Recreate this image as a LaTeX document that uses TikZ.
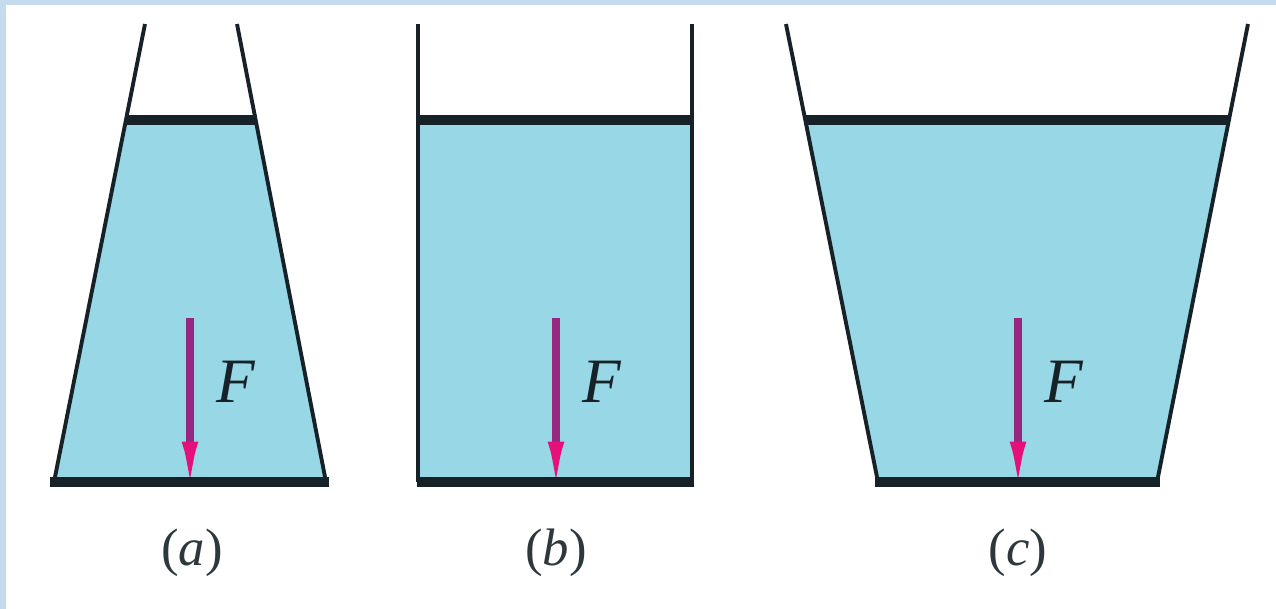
\documentclass[tikz,border=0pt]{standalone}
\usepackage{fontspec}
\setmainfont{Liberation Serif}
\usetikzlibrary{arrows.meta}
\definecolor{water}{RGB}{152,215,230}
\definecolor{wall}{RGB}{22,34,40}
\definecolor{shaft}{RGB}{150,40,130}
\definecolor{tip}{RGB}{230,16,122}
\definecolor{frame}{RGB}{198,218,238}

\begin{document}
\begin{tikzpicture}[x=0.02cm,y=-0.02cm,
  wallline/.style={draw=wall,line width=2.2pt},
  levelline/.style={draw=wall,line width=5.8pt},
  force/.style={draw=shaft,line width=4.2pt,-{Latex[length=1.15cm,width=0.32cm,color=tip]}},
  flabel/.style={font=\fontsize{36}{40}\selectfont\itshape,text=wall},
  caption/.style={font=\fontsize{30}{34}\selectfont,text=wall!90}]
\useasboundingbox (0,0) rectangle (1276,609);
\fill[white] (0,0) rectangle (1276,609);
\fill[frame] (0,0) rectangle (1276,5);
\fill[frame] (0,0) rectangle (6,609);

% (a) narrowing vessel
\coordinate (aTL) at (145,24);
\coordinate (aTR) at (237,24);
\coordinate (aBL) at (54,482);
\coordinate (aBR) at (326,482);
\fill[water] (127,120) -- (256,120) -- (aBR) -- (aBL) -- cycle;
\draw[wallline] (aTL) -- (aBL);
\draw[wallline] (aTR) -- (aBR);
\coordinate (aF0) at (190,318);
\coordinate (aF1) at (190,499);
\draw[force] (aF0) -- (aF1);
\draw[levelline] (126,120) -- (257,120);
\draw[levelline] (50,482) -- (329,482);
\node[flabel] (aF) at (236,382) {F};
\node[caption] (acap) at (192,553) {(\textit{a})};

% (b) straight vessel
\coordinate (bTL) at (418,24);
\coordinate (bTR) at (692,24);
\coordinate (bBL) at (418,482);
\coordinate (bBR) at (692,482);
\fill[water] (418,120) -- (692,120) -- (bBR) -- (bBL) -- cycle;
\draw[wallline] (bTL) -- (bBL);
\draw[wallline] (bTR) -- (bBR);
\coordinate (bF0) at (556,318);
\coordinate (bF1) at (556,499);
\draw[force] (bF0) -- (bF1);
\draw[levelline] (417,120) -- (693,120);
\draw[levelline] (417,482) -- (694,482);
\node[flabel] (bF) at (602,382) {F};
\node[caption] (bcap) at (556,553) {(\textit{b})};

% (c) widening vessel
\coordinate (cTL) at (786,24);
\coordinate (cTR) at (1248,24);
\coordinate (cBL) at (878,482);
\coordinate (cBR) at (1157,482);
\fill[water] (805,120) -- (1229,120) -- (cBR) -- (cBL) -- cycle;
\draw[wallline] (cTL) -- (cBL);
\draw[wallline] (cTR) -- (cBR);
\coordinate (cF0) at (1018,318);
\coordinate (cF1) at (1018,499);
\draw[force] (cF0) -- (cF1);
\draw[levelline] (804,120) -- (1230,120);
\draw[levelline] (875,482) -- (1160,482);
\node[flabel] (cF) at (1064,382) {F};
\node[caption] (ccap) at (1018,553) {(\textit{c})};
\end{tikzpicture}
\end{document}
